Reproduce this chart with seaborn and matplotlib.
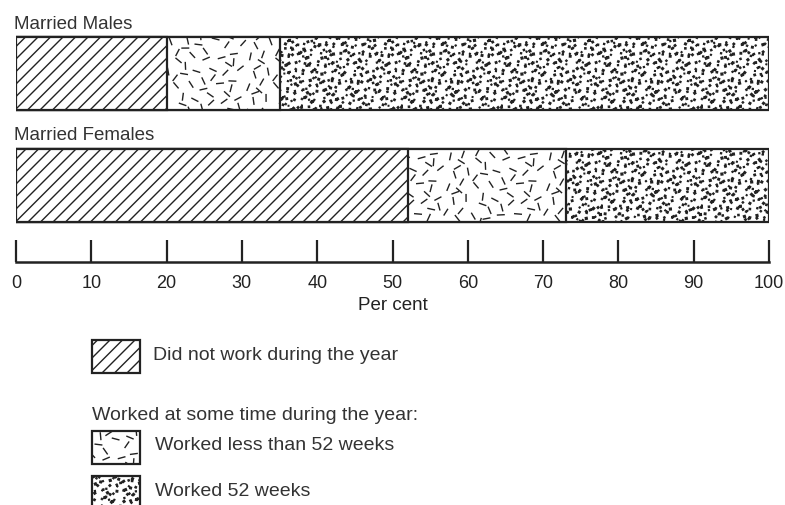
import warnings
import numpy as np
import pandas as pd
import seaborn as sns
import matplotlib
matplotlib.use("Agg")
import matplotlib.pyplot as plt
import matplotlib.hatch as mhatch
from matplotlib.path import Path
from matplotlib.patches import Rectangle

warnings.filterwarnings("ignore")

# data (per cent of each group)
groups = ["Married Males", "Married Females"]
did_not_work = [20, 52]
worked_less_52 = [15, 21]
worked_52 = [65, 27]
tick_values = [0, 10, 20, 30, 40, 50, 60, 70, 80, 90, 100]
legend_labels = ["Did not work during the year",
                 "Worked less than 52 weeks",
                 "Worked 52 weeks"]
legend_heading = "Worked at some time during the year:"
hatches = ["n", "d", "s"]  # diagonal lines, scattered dashes, stipple


# --- custom hatch textures (printed-chart look) ---
R2X, R2Y = 0.7548776662466927, 0.5698402909980532
SHIFTS = [(sx, sy) for sx in (-1, 0, 1) for sy in (-1, 0, 1)]


def _points(n, wobble=0.0):
    k = np.arange(1, n + 1)
    x = np.mod(0.5 + k * R2X + wobble * np.sin(k * 1.7), 1)
    y = np.mod(0.5 + k * R2Y + wobble * np.cos(k * 2.3), 1)
    return x, y, k


class DiagonalHatch(mhatch.HatchPatternBase):
    def __init__(self, hatch, density):
        self.num_vertices = 2 * 17 if "n" in hatch else 0

    def set_vertices_and_codes(self, vertices, codes):
        c = np.arange(-8, 9) / 8
        vertices[0::2, 0] = 0.0
        vertices[0::2, 1] = c
        vertices[1::2, 0] = 1.0
        vertices[1::2, 1] = 1.0 + c
        codes[0::2] = Path.MOVETO
        codes[1::2] = Path.LINETO


class DashHatch(mhatch.HatchPatternBase):
    n = 78

    def __init__(self, hatch, density):
        self.num_vertices = 2 * self.n * 9 if "d" in hatch else 0

    def set_vertices_and_codes(self, vertices, codes):
        x, y, k = _points(self.n, 0.015)
        ang = np.mod(k * 2.399963, np.pi)
        dx, dy = 0.033 * np.cos(ang), 0.033 * np.sin(ang)
        segs = [np.column_stack([x + sx - dx, y + sy - dy, x + sx + dx, y + sy + dy])
                for sx, sy in SHIFTS]
        vertices[:] = np.vstack(segs).reshape(-1, 2)
        codes[0::2] = Path.MOVETO
        codes[1::2] = Path.LINETO


class StippleHatch(mhatch.HatchPatternBase):
    n = 390

    def __init__(self, hatch, density):
        self.num_vertices = 5 * self.n * 9 if "s" in hatch else 0

    def set_vertices_and_codes(self, vertices, codes):
        x, y, k = _points(self.n, 0.02)
        r = 0.003 + 0.006 * np.mod(k * 0.618034, 1)
        rot = k * 2.399963
        base = np.array([[-1, -1], [1, -1], [1, 1], [-1, 1], [-1, -1]], dtype=float)
        ca, sa = np.cos(rot)[:, None], np.sin(rot)[:, None]
        ox = r[:, None] * (ca * base[:, 0] - sa * base[:, 1])
        oy = r[:, None] * (sa * base[:, 0] + ca * base[:, 1])
        pts = []
        for sx, sy in SHIFTS:
            cx = (x + sx)[:, None] + ox
            cy = (y + sy)[:, None] + oy
            pts.append(np.stack([cx, cy], axis=-1).reshape(-1, 2))
        vertices[:] = np.vstack(pts)
        codes[:] = Path.LINETO
        codes[0::5] = Path.MOVETO
        codes[4::5] = Path.CLOSEPOLY


mhatch._hatch_types.extend([DiagonalHatch, DashHatch, StippleHatch])

sns.set_theme(style="white")
plt.rcParams["font.family"] = ["Liberation Sans", "DejaVu Sans"]
plt.rcParams["hatch.linewidth"] = 1.0
plt.rcParams["hatch.color"] = "black"

W, H = 785, 505
fig = plt.figure(figsize=(W / 100, H / 100), dpi=100)
ax = fig.add_axes([16 / W, 1 - 262 / H, 753 / W, 242 / H])

df = pd.DataFrame({"group": groups,
                   "did_not_work": did_not_work,
                   "less": worked_less_52,
                   "full": worked_52})
cols = ["did_not_work", "less", "full"]
cum = df[cols].cumsum(axis=1)
cum["group"] = groups

BAR_W = 0.655
# widest (cumulative) layer first, the narrower ones cover it
for col, hatch in zip(reversed(cols), reversed(hatches)):
    sns.barplot(data=cum, x=col, y="group", orient="h", width=BAR_W,
                color="white", edgecolor="#222222", linewidth=1.6,
                hatch=hatch, errorbar=None, ax=ax)

ax.set_xlim(0, 100)
ax.set_ylim(1.69, -0.48)
for i, g in enumerate(groups):
    ax.text(-0.3, i - BAR_W / 2 - 0.075, g, ha="left", va="baseline",
            fontsize=13.5, color="#333333")

for s in ["left", "top", "right"]:
    ax.spines[s].set_visible(False)
ax.spines["bottom"].set_linewidth(1.8)
ax.spines["bottom"].set_color("#222222")
ax.set_yticks([])
ax.set_ylabel("")
ax.set_xticks(tick_values)
ax.tick_params(axis="x", direction="in", length=16, width=1.6, pad=9,
               labelsize=13, colors="#222222", bottom=True)
ax.set_xlabel("Per cent", fontsize=13.5, labelpad=4, color="#222222")

# legend drawn as a printed key
def key_box(x0, y0, hatch):
    fig.add_artist(Rectangle((x0 / W, 1 - (y0 + 33) / H), 48 / W, 33 / H,
                             transform=fig.transFigure, facecolor="white",
                             edgecolor="#222222", linewidth=1.6, hatch=hatch))

key_box(92, 340, hatches[0])
fig.text(153 / W, 1 - 356 / H, legend_labels[0], va="center", fontsize=14, color="#333333")
fig.text(92 / W, 1 - 415 / H, legend_heading, va="center", fontsize=14, color="#333333")
key_box(92, 431, hatches[1])
fig.text(155 / W, 1 - 446 / H, legend_labels[1], va="center", fontsize=14, color="#333333")
key_box(92, 476, hatches[2])
fig.text(155 / W, 1 - 491 / H, legend_labels[2], va="center", fontsize=14, color="#333333")

fig.savefig("out.png", dpi=100, facecolor="white")
